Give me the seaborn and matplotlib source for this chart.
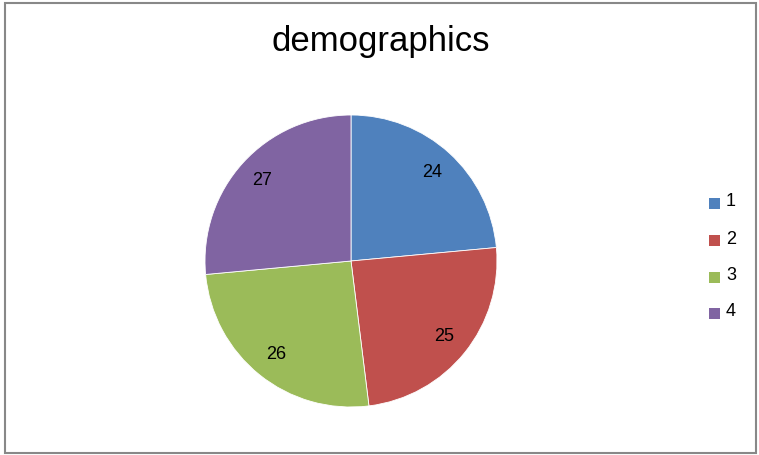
import matplotlib
matplotlib.use("Agg")
import matplotlib.pyplot as plt
import seaborn as sns
from matplotlib.patches import Rectangle

categories = ["1", "2", "3", "4"]
values = [24, 25, 26, 27]
colors = ["#4F81BD", "#C0504D", "#9BBB59", "#8064A2"]
title = "demographics"

sns.set_theme(style="white")
plt.rcParams['font.family'] = ['Liberation Sans', 'DejaVu Sans']

W, H = 759, 455
fig = plt.figure(figsize=(W / 100, H / 100), dpi=100)
fig.patch.set_facecolor("white")

cx, cy, r = 351, 261, 146
ax = fig.add_axes([(cx - r) / W, (H - cy - r) / H, 2 * r / W, 2 * r / H])
wedges, texts = ax.pie(values, colors=colors, startangle=90, counterclock=False,
                       labels=[str(v) for v in values], labeldistance=0.82,
                       radius=1.0, wedgeprops=dict(linewidth=0.6, edgecolor="white"),
                       textprops=dict(fontsize=13, color="black"))
for t in texts:
    t.set_horizontalalignment("center")
    t.set_verticalalignment("center")
ax.set_xlim(-1.0, 1.0)
ax.set_ylim(-1.0, 1.0)
ax.set_aspect("equal")
ax.axis("off")

fig.text(381 / W, 1 - 42 / H, title, ha="center", va="center", fontsize=25, color="black")

# legend
rows = [203, 240, 277, 313]
for lab, c, y in zip(categories, colors, rows):
    fig.patches.append(Rectangle(((709) / W, 1 - (y + 6) / H), 11 / W, 11 / H,
                                 transform=fig.transFigure, facecolor=c, edgecolor="none"))
    fig.text(726 / W, 1 - (y - 1) / H, lab, ha="left", va="center", fontsize=13, color="black")

fig.patches.append(Rectangle((4.5 / W, 2.5 / H), (756 - 4.5) / W, (452 - 2.5) / H,
                             transform=fig.transFigure, facecolor="none",
                             edgecolor="#888888", linewidth=1.5))

fig.savefig("out.png", dpi=100, facecolor="white")
